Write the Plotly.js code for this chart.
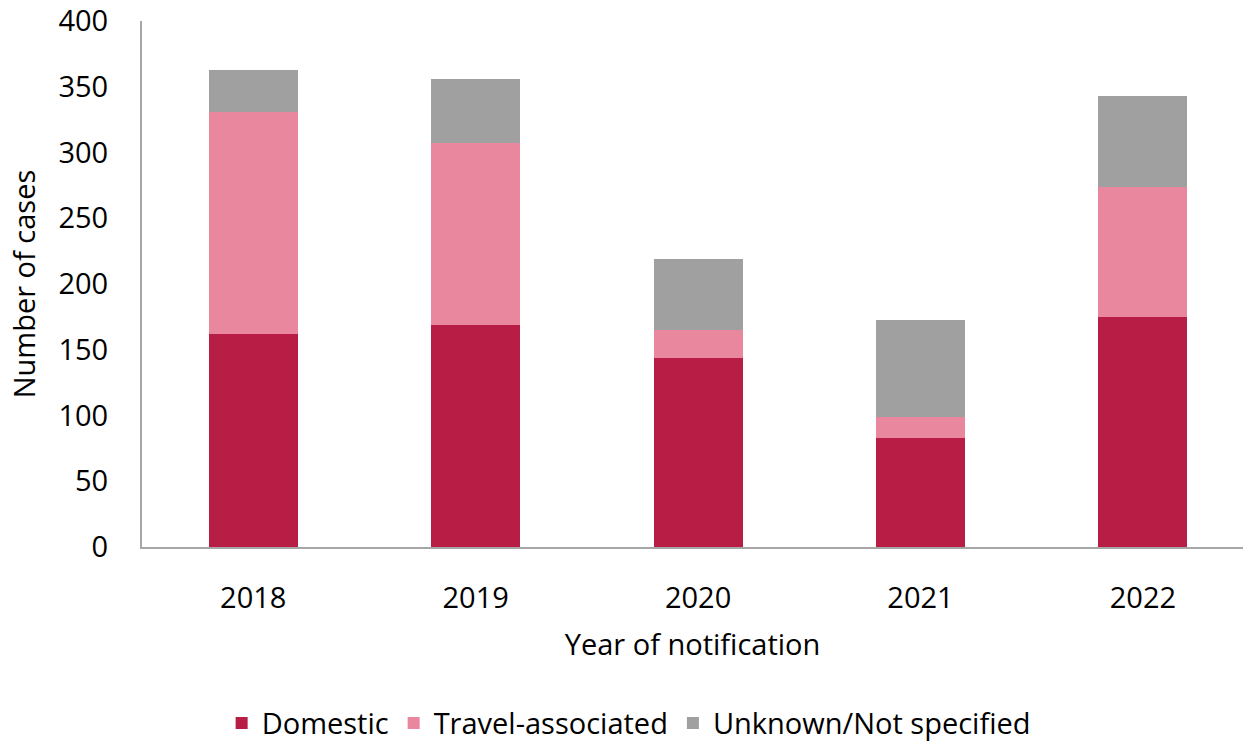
<!DOCTYPE html>
<html>
<head>
<meta charset="utf-8">
<script src="https://cdn.plot.ly/plotly-3.0.1.min.js"></script>
<style>html,body{margin:0;padding:0;background:#fff;}#chart{width:1243px;height:747px;}</style>
</head>
<body>
<div id="chart"></div>
<script>
const years = ['2018', '2019', '2020', '2021', '2022'];
const domestic = [162, 169, 144, 83, 175];
const travel = [169, 138, 21, 16, 99];
const unknown = [32, 49, 54, 74, 69];
const yTicks = [0, 50, 100, 150, 200, 250, 300, 350, 400];

const fontFam = 'Open Sans, sans-serif';
const traces = [
  {name: 'Domestic', x: years, y: domestic, type: 'bar', marker: {color: '#B81E45'}},
  {name: 'Travel-associated', x: years, y: travel, type: 'bar', marker: {color: '#E8879E'}},
  {name: 'Unknown/Not specified', x: years, y: unknown, type: 'bar', marker: {color: '#A0A0A0'}}
];
const layout = {
  width: 1243, height: 747,
  barmode: 'stack', bargap: 0.6,
  margin: {l: 142, r: 0, t: 21, b: 200, autoexpand: false},
  paper_bgcolor: '#fff', plot_bgcolor: '#fff',
  font: {family: fontFam, size: 29, color: '#000'},
  showlegend: true,
  legend: {orientation: 'h', x: 0.442, xanchor: 'center', y: -0.335, yanchor: 'middle',
           font: {size: 29}, traceorder: 'normal', itemwidth: 30, tracegroupgap: 0},
  xaxis: {type: 'category', range: [-0.5, 4.45], showline: true, linecolor: '#A6A6A6', linewidth: 2,
          ticks: '', showgrid: false, ticklabelstandoff: 24, automargin: false,
          title: {text: 'Year of notification', font: {size: 29}, standoff: 20}},
  yaxis: {range: [0, 400], tickvals: yTicks, showline: true, linecolor: '#A6A6A6', linewidth: 2,
          ticks: '', showgrid: false, zeroline: false, ticklabelstandoff: 26, automargin: false,
          title: {text: 'Number of cases', font: {size: 29}, standoff: 14}}
};
Plotly.newPlot('chart', traces, layout, {displayModeBar: false, staticPlot: true});
</script>
</body>
</html>
